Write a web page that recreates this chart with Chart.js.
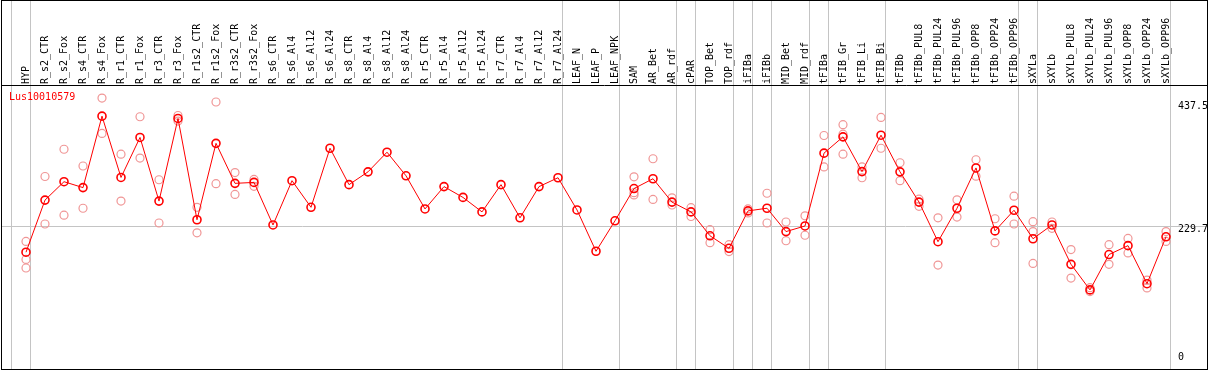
<!DOCTYPE html>
<html>
<head>
<meta charset="utf-8">
<script src="https://cdn.jsdelivr.net/npm/chart.js@4/dist/chart.umd.min.js"></script>
<style>
  html, body { margin: 0; padding: 0; background: #fff; }
  canvas { display: block; }
</style>
</head>
<body>
<canvas id="expr" width="1209" height="370"></canvas>
<script>
// gene / sample series
const geneName = 'Lus10010579';

const categories = [
  'HYP', 'R_s2_CTR', 'R_s2_Fox', 'R_s4_CTR', 'R_s4_Fox', 'R_r1_CTR', 'R_r1_Fox', 'R_r3_CTR', 'R_r3_Fox',
  'R_r1s2_CTR', 'R_r1s2_Fox', 'R_r3s2_CTR', 'R_r3s2_Fox', 'R_s6_CTR', 'R_s6_Al4', 'R_s6_Al12', 'R_s6_Al24',
  'R_s8_CTR', 'R_s8_Al4', 'R_s8_Al12', 'R_s8_Al24', 'R_r5_CTR', 'R_r5_Al4', 'R_r5_Al12', 'R_r5_Al24',
  'R_r7_CTR', 'R_r7_Al4', 'R_r7_Al12', 'R_r7_Al24', 'LEAF_N', 'LEAF_P', 'LEAF_NPK', 'SAM', 'AR_Bet', 'AR_rdf',
  'cPAR', 'TOP_Bet', 'TOP_rdf', 'iFIBa', 'iFIBb', 'MID_Bet', 'MID_rdf', 'tFIBa', 'tFIB_Gr', 'tFIB_Li', 'tFIB_Bi',
  'tFIBb', 'tFIBb_PUL8', 'tFIBb_PUL24', 'tFIBb_PUL96', 'tFIBb_OPP8', 'tFIBb_OPP24', 'tFIBb_OPP96',
  'sXYLa', 'sXYLb', 'sXYLb_PUL8', 'sXYLb_PUL24', 'sXYLb_PUL96', 'sXYLb_OPP8', 'sXYLb_OPP24', 'sXYLb_OPP96'
];

const means = [
  184.8, 273.0, 304.1, 294.1, 415.0, 311.3, 379.0, 271.3, 411.1, 239.7, 369.0, 301.3, 302.9,
  230.9, 305.8, 260.8, 360.7, 299.1, 320.8, 354.0, 314.1, 258.0, 295.8, 277.5, 253.0,
  299.1, 243.0, 295.8, 310.8, 256.3, 186.4, 238.0, 292.5, 309.1, 269.6,
  253.0, 212.6, 191.4, 254.7, 259.2, 219.7, 229.2, 352.4, 380.0, 321.2, 382.8,
  320.8, 269.6, 202.6, 259.2, 327.4, 220.9, 255.8,
  207.6, 230.9, 164.3, 121.0, 180.9, 195.9, 131.5, 210.9
];

// replicates (null = none shown)
const rep1 = [
  203.1, 312.9, 359.0, 330.7, 445.6, 350.7, 414.0, 307.4, 416.1, 260.8, 438.9, 319.6, 307.9,
  null, null, null, null, null, null, null, null, null, null, null, null,
  null, null, null, null, null, null, null, 312.4, 342.9, 276.8,
  260.2, 223.0, 197.6, 258.0, 284.6, 235.9, 246.3, 382.3, 400.6, 329.1, 412.8,
  336.2, 274.6, 243.0, 273.5, 341.2, 241.4, 279.6,
  236.4, 235.9, 189.3, 124.8, 197.6, 208.1, 137.7, 219.7
];
const rep2 = [
  172.6, 232.5, 247.5, 259.2, 385.7, 271.3, 344.1, 234.2, 406.6, 217.6, 300.8, 282.5, 296.3,
  null, null, null, null, null, null, null, null, null, null, null, null,
  null, null, null, null, null, null, null, 285.5, 274.1, 264.7,
  245.2, 200.9, 185.9, 251.3, 234.2, 204.2, 213.5, 329.1, 384.5, 310.8, 360.7,
  305.8, 262.5, 163.1, 244.2, 313.4, 200.9, 232.5,
  219.7, 225.2, 141.0, 118.2, 164.3, 183.6, 124.3, 203.1
];
const rep3 = [
  158.1, null, null, null, null, null, null, null, null, null, null, null, null,
  null, null, null, null, null, null, null, null, null, null, null, null,
  null, null, null, null, null, null, null, 281.8, null, null,
  null, null, null, null, null, null, null, null, 350.7, null, null,
  null, null, null, null, null, null, null,
  165.9, null, null, null, null, null, null, null
];

// last index of each tissue group (-1 = left edge line)
const groupEnds = [-1, 0, 28, 31, 34, 35, 37, 38, 39, 41, 42, 45, 52, 53, 60];
const gridValues = [229.7];
const yTickValues = [437.5, 229.7, 0];
const yTickLabels = ['437.5', '229.7', '0'];

const yMin = -5;
const yMax = 467.7;
const MONO = '10px "DejaVu Sans Mono", monospace';

const framePlugin = {
  id: 'frame',
  beforeDraw(chart) {
    const ctx = chart.ctx;
    ctx.save();
    ctx.fillStyle = '#fff';
    ctx.fillRect(0, 0, chart.width, chart.height);
    ctx.restore();
  },
  beforeDatasetsDraw(chart) {
    const ctx = chart.ctx;
    const xs = chart.scales.x, ys = chart.scales.y;
    ctx.save();
    ctx.lineWidth = 1;
    ctx.strokeStyle = '#c4c4c4';
    // group separators
    groupEnds.forEach(k => {
      const px = Math.round(xs.getPixelForValue(k + 0.23)) + 0.5;
      ctx.beginPath();
      ctx.moveTo(px, 0);
      ctx.lineTo(px, 369);
      ctx.stroke();
    });
    // horizontal grid
    gridValues.forEach(v => {
      const py = Math.round(ys.getPixelForValue(v)) + 0.5;
      ctx.beginPath();
      ctx.moveTo(1, py);
      ctx.lineTo(1207, py);
      ctx.stroke();
    });
    // black frame + header line
    ctx.strokeStyle = '#000';
    ctx.strokeRect(1.5, 0.5, 1206, 369);
    ctx.beginPath();
    ctx.moveTo(1, 85.5);
    ctx.lineTo(1208, 85.5);
    ctx.stroke();

    // rotated sample labels
    ctx.font = MONO;
    ctx.fillStyle = '#000';
    ctx.textAlign = 'left';
    ctx.textBaseline = 'alphabetic';
    categories.forEach((c, i) => {
      const px = xs.getPixelForValue(i);
      ctx.save();
      ctx.translate(px + 3, 84);
      ctx.rotate(-Math.PI / 2);
      ctx.fillText(c, 0, 0);
      ctx.restore();
    });

    // right-hand value labels
    ctx.textBaseline = 'middle';
    yTickValues.forEach((v, i) => {
      const py = ys.getPixelForValue(v);
      const off = v === 0 ? -4 : 4;
      ctx.fillText(yTickLabels[i], 1178, py + off);
    });

    // gene name
    ctx.fillStyle = '#ff0000';
    ctx.textBaseline = 'alphabetic';
    ctx.fillText(geneName, 9, 100);
    ctx.restore();
  }
};

const repStyle = {
  type: 'line',
  showLine: false,
  pointRadius: 4,
  pointBorderWidth: 1.2,
  pointBorderColor: '#f09696',
  pointBackgroundColor: 'rgba(0,0,0,0)',
  clip: false
};

new Chart(document.getElementById('expr'), {
  type: 'line',
  data: {
    labels: categories,
    datasets: [
      {
        label: 'mean',
        data: means,
        borderColor: '#ff0000',
        borderWidth: 1,
        tension: 0,
        pointRadius: 4,
        pointBorderWidth: 1.6,
        pointBorderColor: '#ff0000',
        pointBackgroundColor: 'rgba(0,0,0,0)',
        clip: false
      },
      Object.assign({ label: 'rep1', data: rep1 }, repStyle),
      Object.assign({ label: 'rep2', data: rep2 }, repStyle),
      Object.assign({ label: 'rep3', data: rep3 }, repStyle)
    ]
  },
  options: {
    responsive: false,
    animation: false,
    devicePixelRatio: 1,
    layout: { padding: { left: 26, right: 43, top: 85, bottom: 1 } },
    plugins: { legend: { display: false }, tooltip: { enabled: false } },
    scales: {
      x: { display: false, offset: false },
      y: { display: false, min: yMin, max: yMax }
    }
  },
  plugins: [framePlugin]
});
</script>
</body>
</html>
